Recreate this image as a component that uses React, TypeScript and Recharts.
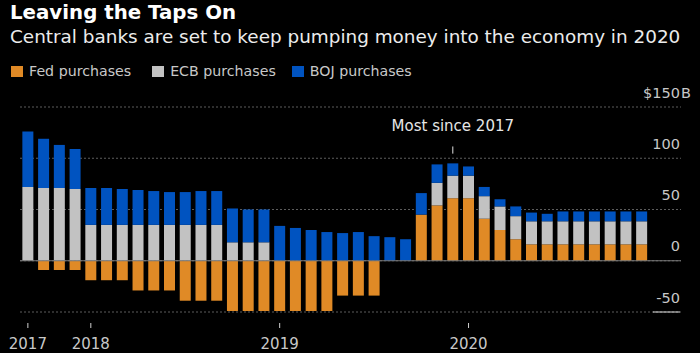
import React from "react"
import {
  BarChart,
  Bar,
  XAxis,
  YAxis,
  CartesianGrid,
  ReferenceLine,
} from "recharts"

const FONT = "'DejaVu Sans', sans-serif"

// 2017 is quarterly, then monthly from 2018
const PERIODS = [
  "Q1 2017", "Q2 2017", "Q3 2017", "Q4 2017",
  "Jan 2018", "Feb 2018", "Mar 2018", "Apr 2018", "May 2018", "Jun 2018",
  "Jul 2018", "Aug 2018", "Sep 2018", "Oct 2018", "Nov 2018", "Dec 2018",
  "Jan 2019", "Feb 2019", "Mar 2019", "Apr 2019", "May 2019", "Jun 2019",
  "Jul 2019", "Aug 2019", "Sep 2019", "Oct 2019", "Nov 2019", "Dec 2019",
  "Jan 2020", "Feb 2020", "Mar 2020", "Apr 2020", "May 2020", "Jun 2020",
  "Jul 2020", "Aug 2020", "Sep 2020", "Oct 2020", "Nov 2020", "Dec 2020",
]

const FED = [
  0, -9, -9, -9, -19, -19, -19, -29, -29, -29, -39, -39, -39, -49, -49, -49,
  -49, -49, -49, -49, -34, -34, -34, 0, 0, 45, 54, 61, 61, 41, 30, 21,
  16, 16, 16, 16, 16, 16, 16, 16,
]

const ECB = [
  72, 71, 71, 70, 35, 35, 35, 35, 35, 35, 35, 35, 35, 18, 18, 18,
  0, 0, 0, 0, 0, 0, 0, 0, 0, 0, 22, 22, 22, 22, 23, 22.5,
  22.5, 22.5, 22.5, 22.5, 22.5, 22.5, 22.5, 22.5,
]

const BOJ = [
  54, 48, 42, 39, 36, 36, 35, 34, 33, 32, 32, 33, 33, 33, 32, 32,
  34, 32, 30, 28, 27, 28, 24, 23, 21, 21, 18, 12, 9, 9, 7, 9.5,
  8.5, 7.3, 9.6, 9.6, 9.6, 9.6, 9.6, 9.6,
]

const YEAR_TICK_PERIODS = ["Q1 2017", "Jan 2018", "Jan 2019", "Jan 2020"]
const YEAR_LABELS = ["2017", "2018", "2019", "2020"]

const Y_TICKS = [-50, 0, 50, 100, 150]

const SERIES = [
  { key: "fed", label: "Fed purchases", color: "#e08a26" },
  { key: "ecb", label: "ECB purchases", color: "#c2c2c2" },
  { key: "boj", label: "BOJ purchases", color: "#0053c0" },
]

// two empty slots on the right leave room for the axis labels
const data = [
  ...PERIODS.map((period, i) => ({
    period,
    fed: FED[i],
    ecb: ECB[i],
    boj: BOJ[i],
  })),
  { period: "pad1" },
  { period: "pad2" },
]

const XTick = (props: any) => {
  const { x, y, payload } = props
  const idx = YEAR_TICK_PERIODS.indexOf(payload.value)
  if (idx < 0) return <g />
  return (
    <g>
      <line x1={x} x2={x} y1={y + 11} y2={y + 16} stroke="#d0d0d0" strokeWidth={1} />
      <text x={x} y={y + 37} textAnchor="middle" fill="#c8c8c8" fontSize={15} fontFamily={FONT}>
        {YEAR_LABELS[idx]}
      </text>
    </g>
  )
}

const YTick = (props: any) => {
  const { x, y, payload } = props
  const v = payload.value
  const style = { fill: "#c8c8c8", fontSize: 14.5, fontFamily: FONT }
  // x is the plot's right edge (axis is 1px wide)
  const right = x - 1
  if (v === 150) {
    return (
      <g>
        <text x={right} y={y - 9} textAnchor="end" {...style}>$150</text>
        <text x={right + 1} y={y - 9} textAnchor="start" {...style}>B</text>
      </g>
    )
  }
  return (
    <g>
      <text x={right} y={y - 9.5} textAnchor="end" {...style}>{v}</text>
      {v === -50 && <line x1={right - 27} x2={right} y1={y} y2={y} stroke="#e0e0e0" strokeWidth={1} />}
    </g>
  )
}

export default function App() {
  return (
    <div
      style={{
        position: "absolute",
        left: 0,
        top: 0,
        width: 700,
        height: 353,
        background: "#000",
        overflow: "hidden",
      }}
    >
      <div
        style={{
          position: "absolute",
          left: 10,
          top: 3,
          fontFamily: FONT,
          fontWeight: "bold",
          fontSize: 19.8,
          lineHeight: "19.5px",
          color: "#fff",
          whiteSpace: "nowrap",
        }}
      >
        Leaving the Taps On
      </div>
      <div
        style={{
          position: "absolute",
          left: 10,
          top: 28,
          fontFamily: FONT,
          fontSize: 18.4,
          lineHeight: "18px",
          color: "#ececec",
          whiteSpace: "nowrap",
        }}
      >
        Central banks are set to keep pumping money into the economy in 2020
      </div>
      <div
        style={{
          position: "absolute",
          left: 11,
          top: 63,
          display: "flex",
          fontFamily: FONT,
          fontSize: 14.2,
          color: "#c8c8c8",
          whiteSpace: "nowrap",
        }}
      >
        {SERIES.map((s, i) => (
          <div key={s.key} style={{ display: "flex", alignItems: "center", marginRight: i === 0 ? 21 : 16 }}>
            <span style={{ width: 12, height: 11, background: s.color, marginRight: 6, display: "inline-block" }} />
            <span>{s.label}</span>
          </div>
        ))}
      </div>
      <div style={{ position: "absolute", left: 0, top: 0 }}>
        <BarChart
          width={700}
          height={353}
          data={data}
          stackOffset="sign"
          barCategoryGap="15%"
          margin={{ top: 107, right: 18, bottom: 0, left: 20 }}
        >
          <CartesianGrid vertical={false} stroke="#5c5c5c" strokeDasharray="2 2" />
          <XAxis
            dataKey="period"
            interval={0}
            axisLine={false}
            tickLine={false}
            tickSize={0}
            tickMargin={0}
            height={41}
            tick={<XTick />}
          />
          <YAxis
            orientation="right"
            domain={[-50, 150]}
            ticks={Y_TICKS}
            width={1}
            axisLine={false}
            tickLine={false}
            tickSize={0}
            tickMargin={0}
            tick={<YTick />}
          />
          {SERIES.map((s) => (
            <Bar
              key={s.key}
              dataKey={s.key}
              name={s.label}
              stackId="qe"
              fill={s.color}
              isAnimationActive={false}
            />
          ))}
          <ReferenceLine y={0} stroke="#7a7a7a" strokeWidth={1} />
          <ReferenceLine
            segment={[
              { x: "Dec 2019", y: 104.5 },
              { x: "Dec 2019", y: 111.5 },
            ]}
            stroke="#e0e0e0"
            strokeWidth={1}
            label={{
              value: "Most since 2017",
              position: "top",
              offset: 15.5,
              fill: "#e6e6e6",
              fontSize: 15,
              fontFamily: FONT,
            }}
          />
        </BarChart>
      </div>
    </div>
  )
}
